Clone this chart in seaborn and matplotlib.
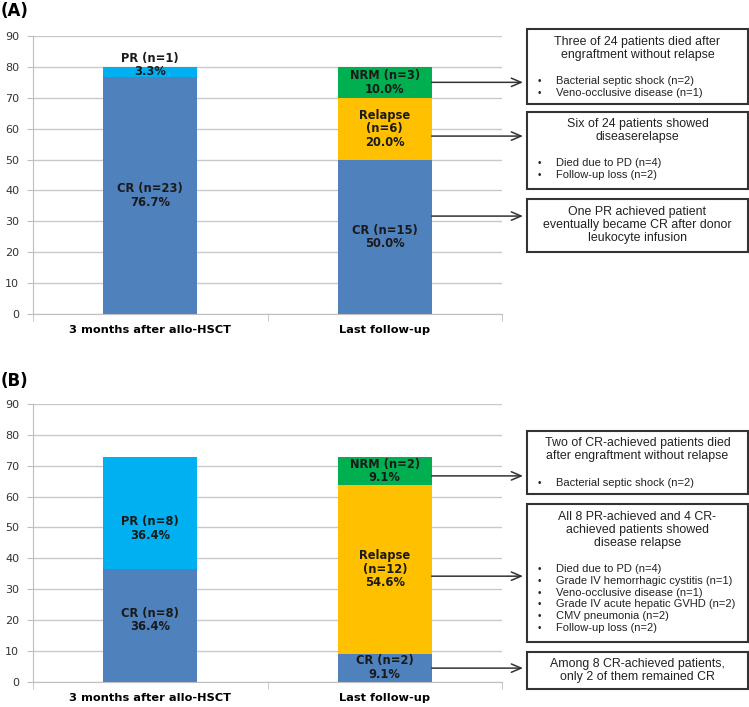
import matplotlib
matplotlib.use("Agg")
import matplotlib.pyplot as plt
import seaborn as sns
import pandas as pd
from matplotlib.patches import Rectangle

# Categories on the x axis
times = ["3 months after allo-HSCT", "Last follow-up"]

# Segments (bottom -> top within each bar)
seg_time = [times[0], times[0], times[1], times[1], times[1]]
seg_group = ["CR", "PR", "CR", "Relapse", "NRM"]

# Panel A values
a_n = [23, 1, 15, 6, 3]
a_pct = [76.7, 3.3, 50.0, 20.0, 10.0]

# Panel B values
b_n = [8, 8, 2, 12, 2]
b_pct = [36.4, 36.4, 9.1, 54.6, 9.1]

colors = {"CR": "#4F81BD", "PR": "#00B0F0", "Relapse": "#FFC000", "NRM": "#00B050"}

# Annotation boxes text
a_boxes = [
    (["Three of 24 patients died after", "engraftment without relapse"],
     ["Bacterial septic shock (n=2)", "Veno-occlusive disease (n=1)"]),
    (["Six of 24 patients showed", "diseaserelapse"],
     ["Died due to PD (n=4)", "Follow-up loss (n=2)"]),
    (["One PR achieved patient", "eventually became CR after donor", "leukocyte infusion"], []),
]
b_boxes = [
    (["Two of CR-achieved patients died", "after engraftment without relapse"],
     ["Bacterial septic shock (n=2)"]),
    (["All 8 PR-achieved and 4 CR-", "achieved patients showed", "disease relapse"],
     ["Died due to PD (n=4)", "Grade IV hemorrhagic cystitis (n=1)", "Veno-occlusive disease (n=1)",
      "Grade IV acute hepatic GVHD (n=2)", "CMV pneumonia (n=2)", "Follow-up loss (n=2)"]),
    (["Among 8 CR-achieved patients,", "only 2 of them remained CR"], []),
]

W, H = 749, 707
fig = plt.figure(figsize=(W / 100, H / 100), dpi=100)


def fx(x):
    return x / W


def fy(y):
    return 1 - y / H


def draw_panel(ax, n, pct, label_shift, arrow_y, boxes, box_layout):
    df = pd.DataFrame({"time": seg_time, "group": seg_group, "n": n, "pct": pct})
    df["top"] = df.groupby("time")["pct"].cumsum()
    df["bottom"] = df["top"] - df["pct"]

    # stacked bars: draw cumulative heights from the top down
    for _, row in df.sort_values("top", ascending=False).iterrows():
        sns.barplot(x=[row["time"]], y=[row["top"]], order=times, color=colors[row["group"]],
                    saturation=1, width=0.4, ax=ax, linewidth=0)

    for i, row in df.iterrows():
        pos = times.index(row["time"])
        if row["group"] == "Relapse":
            txt = f"Relapse\n(n={row['n']})\n{row['pct']:.1f}%"
        else:
            txt = f"{row['group']} (n={row['n']})\n{row['pct']:.1f}%"
        ymid = (row["top"] + row["bottom"]) / 2 + label_shift.get(i, 0)
        ax.text(pos, ymid, txt, ha="center", va="center", fontsize=8.3, fontweight="bold",
                color="#1a1a1a", linespacing=1.05)

    ax.set_ylim(0, 90)
    ax.set_xlim(-0.5, 1.5)
    ax.set_yticks(range(0, 91, 10))
    ax.yaxis.grid(True, color="#C9C9C9", lw=1)
    ax.set_axisbelow(True)
    for s in ["top", "right"]:
        ax.spines[s].set_visible(False)
    for s in ["left", "bottom"]:
        ax.spines[s].set_color("#BFBFBF")
    ax.tick_params(axis="y", length=4, color="#BFBFBF", labelsize=8, labelcolor="#333333", pad=6)
    ax.set_xticks([-0.5, 0.5, 1.5], minor=True)
    ax.tick_params(axis="x", which="minor", length=5, color="#BFBFBF")
    ax.tick_params(axis="x", which="major", length=0, pad=8)
    ax.set_xticks([0, 1])
    ax.set_xticklabels(times, fontsize=8.2, fontweight="bold")
    ax.set_xlabel("")
    ax.set_ylabel("")

    # boxes and arrows
    for (title, bullets), (top, bottom, ty), ay in zip(boxes, box_layout, arrow_y):
        fig.patches.append(Rectangle((fx(527), fy(bottom)), fx(748) - fx(527), fy(top) - fy(bottom),
                                     transform=fig.transFigure, fill=False, edgecolor="#333333", lw=1.5))
        y = ty
        for line in title:
            fig.text(fx(637.5), fy(y), line, ha="center", va="center", fontsize=8.9,
                     family="Liberation Sans", color="#222222")
            y += 13.2
        y += 26 - 13.2
        for line in bullets:
            fig.text(fx(539), fy(y), "\u2022", ha="center", va="center", fontsize=7,
                     family="Liberation Sans", color="#222222")
            fig.text(fx(556), fy(y), line, ha="left", va="center", fontsize=8.0,
                     family="Liberation Sans", color="#222222")
            y += 11.7
        tip = (523 - 33) / 469 * 2 - 0.5
        ax.annotate("", xy=(tip, ay), xytext=(1.2, ay), annotation_clip=False,
                    arrowprops=dict(arrowstyle="->,head_length=0.7,head_width=0.3", color="#333333",
                                    lw=1.1, shrinkA=0, shrinkB=0))


ax_a = fig.add_axes([fx(33), fy(314), fx(502) - fx(33), fy(36) - fy(314)])
draw_panel(ax_a, a_n, a_pct, {1: 2.2}, [75.0, 57.6, 31.7], a_boxes,
           [(29, 104, 41.7), (112, 189, 124), (199, 252, 211.7)])

ax_b = fig.add_axes([fx(33), fy(681.7), fx(502) - fx(33), fy(404) - fy(681.7)])
draw_panel(ax_b, b_n, b_pct, {1: -5.0, 0: 1.8}, [66.7, 34.2, 4.4], b_boxes,
           [(431, 494, 443.3), (504, 642, 516.7), (652, 689, 664)])

fig.text(fx(1), fy(11), "(A)", fontsize=12, fontweight="bold", va="center", ha="left")
fig.text(fx(1), fy(381), "(B)", fontsize=12, fontweight="bold", va="center", ha="left")

fig.savefig("out.png", dpi=100)
